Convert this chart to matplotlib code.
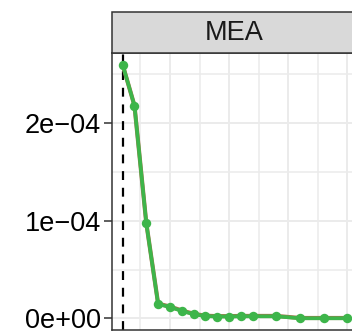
import matplotlib.pyplot as plt
from matplotlib.patches import Rectangle

# data
steps = [1, 2, 3, 4, 5, 6, 7, 8, 9, 10, 11, 12, 14, 16, 18, 20]
mea = [2.60e-4, 2.18e-4, 0.975e-4, 0.145e-4, 0.115e-4, 0.075e-4, 0.042e-4,
       0.022e-4, 0.018e-4, 0.018e-4, 0.020e-4, 0.020e-4, 0.020e-4,
       0.0, 0.0, 0.0]
mea_under = [2.60e-4, 2.18e-4, 0.975e-4, 0.150e-4, 0.120e-4, 0.080e-4, 0.046e-4,
             0.026e-4, 0.022e-4, 0.022e-4, 0.024e-4, 0.024e-4, 0.024e-4,
             0.003e-4, 0.003e-4, 0.003e-4]
yticks = [0, 1e-4, 2e-4]
ylabels = ['0e+00', '1e\u221204', '2e\u221204']
best_step = 1
title = 'MEA'

plt.rcParams['font.family'] = ['Liberation Sans', 'DejaVu Sans']

W, H = 352, 331
fig = plt.figure(figsize=(W / 100, H / 100), dpi=100)
left, right, bottom, top = 112, 356.5, 330, 53
ax = fig.add_axes([left / W, (H - bottom) / H, (right - left) / W, (bottom - top) / H])

ax.set_xlim(0.1, 20.77)
ax.set_ylim(-0.12e-4, 2.72e-4)

# grid
for x in [5, 10, 15, 20]:
    ax.axvline(x, color='#EBEBEB', lw=1.4, zorder=0)
for x in [2.5, 7.5, 12.5, 17.5]:
    ax.axvline(x, color='#EBEBEB', lw=1.1, zorder=0)
for y in yticks:
    ax.axhline(y, color='#EBEBEB', lw=1.4, zorder=0)
for y in [0.5e-4, 1.5e-4, 2.5e-4]:
    ax.axhline(y, color='#EBEBEB', lw=1.1, zorder=0)

ax.axvline(best_step, color='black', lw=1.6, ls=(0, (4, 3.5)), zorder=1)

ax.plot(steps, mea_under, color='#A0764A', lw=3.0, zorder=2)
ax.plot(steps, mea, color='#3DB54A', lw=2.6, marker='o', ms=6.8,
        markeredgewidth=0, zorder=3)

ax.set_yticks(yticks)
ax.set_yticklabels(ylabels)
ax.set_xticks([])
ax.tick_params(axis='y', length=6, width=1.1, color='#333333',
               labelsize=19.5, labelcolor='black', pad=2)
for s in ax.spines.values():
    s.set_color('#333333')
    s.set_linewidth(1.1)

# facet strip
sh = (53 - 12) / (bottom - top)
ax.add_patch(Rectangle((0, 1), 1, sh, transform=ax.transAxes, facecolor='#D9D9D9',
                       edgecolor='#333333', lw=1.1, clip_on=False, zorder=5))
ax.text(0.5, 1 + sh / 2, title, transform=ax.transAxes, ha='center', va='center',
        fontsize=19.5, color='#1A1A1A', zorder=6)

fig.savefig('out.png', dpi=100)
